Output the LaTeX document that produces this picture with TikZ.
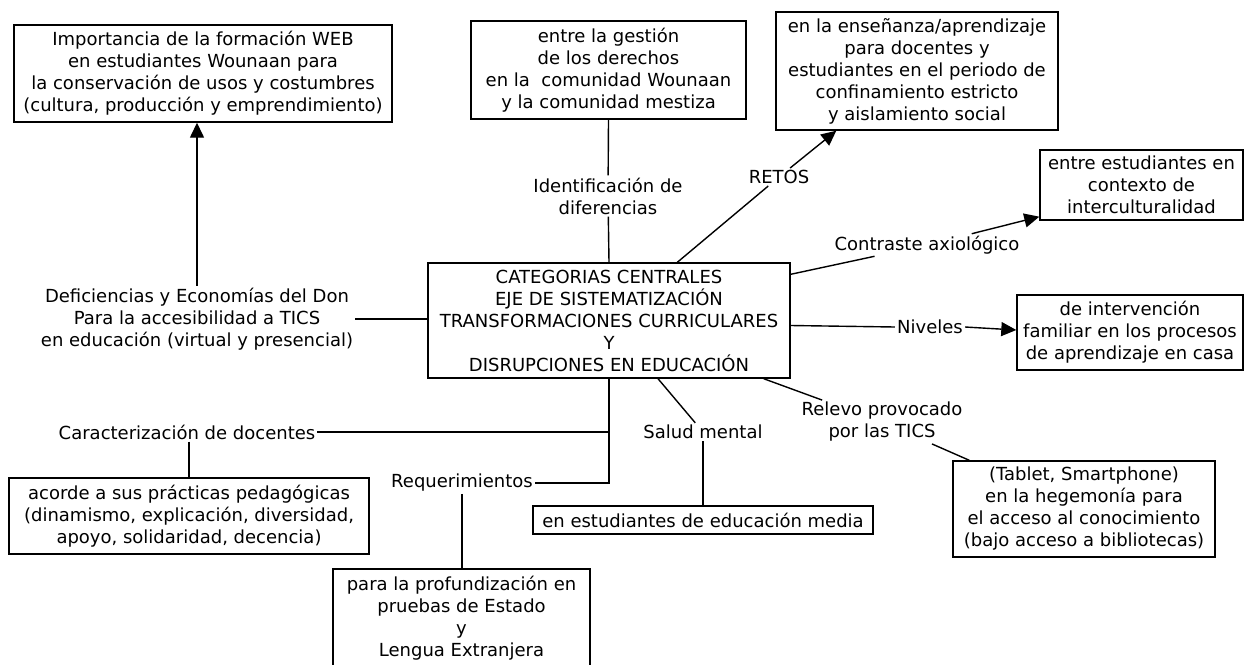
\documentclass[tikz,border=0pt]{standalone}
\usepackage{fontspec}
\setmainfont{DejaVu Sans}
\usetikzlibrary{arrows.meta,calc}
\begin{document}
\begin{tikzpicture}[x=1pt,y=-1pt,
  every node/.style={font=\fontsize{18}{22}\selectfont, align=center},
  box/.style={draw, line width=1.4pt, inner sep=0pt},
  lbl/.style={inner sep=2pt},
  conn/.style={line width=1.4pt},
  arr/.style={conn, -{Triangle[length=15pt,width=14pt]}}]
\useasboundingbox (0,0) rectangle (1244,664);

% boxes
\node[box, minimum width=378pt, minimum height=97pt] (b1) at (203,73.5)
  {Importancia de la formación WEB\\en estudiantes Wounaan para\\la conservación de usos y costumbres\\(cultura, producción y emprendimiento)};
\node[box, minimum width=275pt, minimum height=98pt] (b2) at (608.5,70)
  {entre la gestión\\de los derechos\\en la~ comunidad Wounaan\\y la comunidad mestiza};
\node[box, minimum width=282pt, minimum height=118pt] (b3) at (917,71)
  {en la enseñanza/aprendizaje\\para docentes y\\estudiantes en el periodo de\\confinamiento estricto\\y aislamiento social};
\node[box, minimum width=203pt, minimum height=70pt] (b4) at (1141.5,185)
  {entre estudiantes en\\contexto de\\interculturalidad};
\node[box, minimum width=362pt, minimum height=115pt] (ctr) at (609,320.5)
  {CATEGORIAS CENTRALES\\EJE DE SISTEMATIZACIÓN\\TRANSFORMACIONES CURRICULARES\\Y\\DISRUPCIONES EN EDUCACIÓN};
\node[box, minimum width=226pt, minimum height=75pt] (b5) at (1130,332.5)
  {de intervención\\familiar en los procesos\\de aprendizaje en casa};
\node[box, minimum width=262pt, minimum height=96pt] (b6) at (1084,509)
  {(Tablet, Smartphone)\\en la hegemonía para\\el acceso al conocimiento\\(bajo acceso a bibliotecas)};
\node[box, minimum width=340pt, minimum height=28pt] (b7) at (703,520)
  {en estudiantes de educación media};
\node[box, minimum width=360pt, minimum height=76pt] (b8) at (189,516)
  {acorde a sus prácticas pedagógicas\\(dinamismo, explicación, diversidad,\\apoyo, solidaridad, decencia)};
\node[box, minimum width=257pt, minimum height=99pt] (b9) at (461.5,618.5)
  {para la profundización en\\pruebas de Estado\\y\\Lengua Extranjera};

% labels
\node[lbl] (def) at (197,319) {Deficiencias y Economías del Don\\Para la accesibilidad a TICS\\en educación (virtual y presencial)};
\node[lbl] (ident) at (608,196) {Identificación de\\diferencias};
\node[lbl] (retos) at (779,177) {RETOS};
\node[lbl] (contr) at (927,245) {Contraste axiológico};
\node[lbl] (niv) at (930,327) {Niveles};
\node[lbl] (relevo) at (882,422) {Relevo provocado\\por las TICS};
\node[lbl] (salud) at (703,432) {Salud mental};
\node[lbl] (carac) at (187,432) {Caracterización de docentes};
\node[lbl] (req) at (462,483) {Requerimientos};

% connectors
\draw[arr] (def.north) -- (def.north |- b1.south);
\draw[conn] (def.east) -- (ctr.west |- def.east);
\draw[conn] (b2.south) -- (ident);
\draw[conn] (ident) -- (ctr.north);
\draw[conn] ([xshift=250pt]ctr.north west) -- (retos);
\draw[arr] (retos) -- ([xshift=61pt]b3.south west);
\draw[conn] ([yshift=-12pt]ctr.north east) -- (contr);
\draw[arr] (contr) -- ([yshift=4pt]b4.south west);
\draw[conn] ([yshift=-5pt]ctr.east) -- (niv.west);
\draw[arr] (niv.east) -- ([yshift=2.5pt]b5.west);
\draw[conn] ([xshift=-27pt]ctr.south east) -- (relevo);
\draw[conn] (relevo) -- ([xshift=17pt]b6.north west);
\draw[conn] ([xshift=49pt]ctr.south) -- (salud);
\draw[conn] (salud) -- (b7.north);
\draw[conn] (ctr.south) |- (req.east);
\draw[conn] (carac.east) -- (carac.east -| ctr.south);
\draw[conn] (b8.north |- carac.south) -- (b8.north);
\draw[conn] (req.south) -- (req.south |- b9.north);
\end{tikzpicture}
\end{document}
